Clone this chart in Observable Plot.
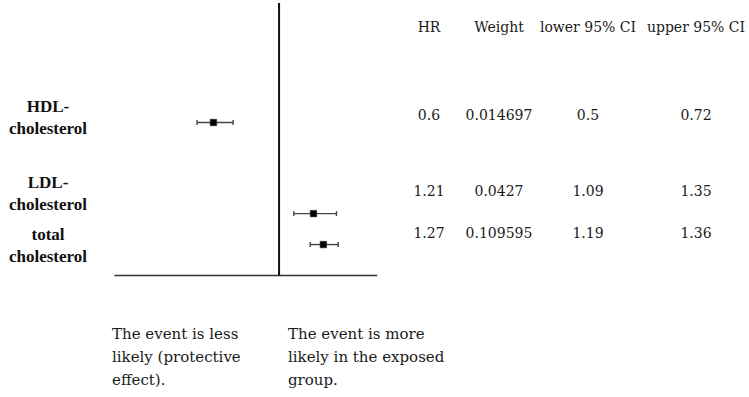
<!DOCTYPE html>
<html><head><meta charset="utf-8">
<script src="https://cdn.jsdelivr.net/npm/d3@7"></script>
<script src="https://cdn.jsdelivr.net/npm/@observablehq/plot@0.6"></script>
<style>
body{margin:0;background:#fff;}
#wrap{position:relative;width:749px;height:397px;font-family:"DejaVu Serif",serif;color:#1a1a1a;overflow:hidden;}
#chart{position:absolute;left:0;top:0;}
.cell{position:absolute;transform:translate(-50%,-50%);white-space:nowrap;font-size:14px;}
.note{position:absolute;font-size:15px;line-height:23px;top:323px;white-space:nowrap;}
</style></head><body><div id="wrap"><div id="chart"></div></div>
<script>
// ---- data ----
const labels = ["HDL-\ncholesterol", "LDL-\ncholesterol", "total\ncholesterol"];
const hr = [0.6, 1.21, 1.27];
const weight = ["0.014697", "0.0427", "0.109595"];
const lower = [0.5, 1.09, 1.19];
const upper = [0.72, 1.35, 1.36];
const rowY = [2.25, 0.91, 0.455];     // vertical position of each estimate (chart units)
const labelY = [2.34, 1.235, 0.47];   // vertical position of each row label (chart units)
const headers = ["HR", "Weight", "lower 95% CI", "upper 95% CI"];
const axisTicks = [0, 0.2, 0.4, 0.6, 0.8, 1, 1.2, 1.4, 1.6];
const noteLeft = ["The event is less", "likely (protective", "effect)."];
const noteRight = ["The event is more", "likely in the exposed", "group."];

const rows = hr.map((d, i) => ({label: labels[i], hr: d, lower: lower[i], upper: upper[i], y: rowY[i], ly: labelY[i]}));

const vline = {draw(ctx, size) { const h = Math.sqrt(size) / 2; ctx.moveTo(0, -h); ctx.lineTo(0, h); }};

const chart = Plot.plot({
  width: 749, height: 397,
  marginLeft: 114.5, marginRight: 372, marginTop: 3, marginBottom: 122,
  x: {domain: [0, 1.6], axis: null},
  y: {domain: [0, 4], axis: null},
  style: {fontFamily: "DejaVu Serif", background: "#fff", color: "#1a1a1a"},
  marks: [
    Plot.dot(axisTicks, {x: d => d, y: 0, symbol: vline, r: 1, stroke: "#d4d4d4", strokeWidth: 1}),
    Plot.ruleY([0], {stroke: "#333", strokeWidth: 1.3}),
    Plot.ruleX([1], {y1: 0, y2: 4, stroke: "#111", strokeWidth: 2}),
    Plot.link(rows, {x1: "lower", x2: "upper", y1: "y", y2: "y", stroke: "#444", strokeWidth: 1.4}),
    Plot.dot(rows, {x: "lower", y: "y", symbol: vline, r: 2.8, stroke: "#444", strokeWidth: 1.4}),
    Plot.dot(rows, {x: "upper", y: "y", symbol: vline, r: 2.8, stroke: "#444", strokeWidth: 1.4}),
    Plot.dot(rows, {x: "hr", y: "y", symbol: "square", r: 3.7, fill: "#000", stroke: "#333", strokeWidth: 0.5}),
    Plot.text(rows, {y: "ly", text: "label", frameAnchor: "left", dx: -67, textAnchor: "middle", lineAnchor: "middle",
      fontFamily: "Liberation Serif", fontWeight: "bold", fontSize: 17, lineHeight: 1.3, fill: "#111"})
  ]
});
document.getElementById("chart").appendChild(chart);

// ---- table to the right ----
const wrap = document.getElementById("wrap");
const colX = [429, 499, 588, 696];
const rowTop = [115, 191, 232.5];
function cell(txt, x, y) {
  const d = document.createElement("div");
  d.className = "cell"; d.textContent = txt;
  d.style.left = x + "px"; d.style.top = y + "px";
  wrap.appendChild(d);
}
headers.forEach((h, j) => cell(h, colX[j], 27));
hr.forEach((v, i) => {
  [String(v), weight[i], String(lower[i]), String(upper[i])].forEach((t, j) => cell(t, colX[j], rowTop[i]));
});

// ---- explanatory notes ----
function note(lines, x) {
  const d = document.createElement("div");
  d.className = "note"; d.style.left = x + "px";
  d.innerHTML = lines.map(l => l.replace(/&/g, "&amp;").replace(/</g, "&lt;")).join("<br>");
  wrap.appendChild(d);
}
note(noteLeft, 112);
note(noteRight, 288);
</script></body></html>
